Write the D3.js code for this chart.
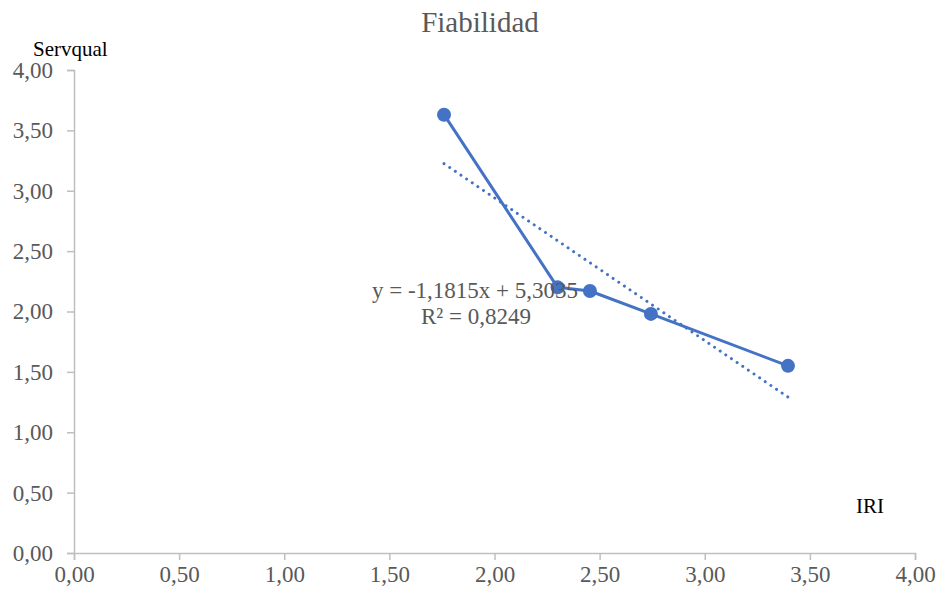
<!DOCTYPE html>
<html><head><meta charset="utf-8">
<script src="https://cdn.jsdelivr.net/npm/d3@7"></script>
<style>body{margin:0;background:#fff}svg{display:block}</style>
</head><body>
<script>
const xValues = [1.76, 2.30, 2.454, 2.744, 3.396];
const yValues = [3.63, 2.20, 2.17, 1.98, 1.55];
const xTicks = [0, 0.5, 1, 1.5, 2, 2.5, 3, 3.5, 4];
const yTicks = [0, 0.5, 1, 1.5, 2, 2.5, 3, 3.5, 4];
const trendSlope = -1.1815, trendIntercept = 5.3035, r2 = 0.8249;
const titleText = "Fiabilidad", yLabel = "Servqual", xLabel = "IRI";

const W = 937, H = 595;
const svg = d3.select("body").append("svg").attr("width", W).attr("height", H);
const x = d3.scaleLinear().domain([0, 4]).range([74, 915]);
const y = d3.scaleLinear().domain([0, 4]).range([553, 70]);
const fmt = v => d3.format(".2f")(v).replace(".", ",");
const num4 = v => v.toFixed(4).replace(".", ",");
const font = "'Liberation Serif', 'Times New Roman', serif";
const grey = "#595959", axisCol = "#BFBFBF", blue = "#4472C4";

const xa = svg.append("g").attr("transform", "translate(0,553)")
  .call(d3.axisBottom(x).tickValues(xTicks).tickFormat(fmt).tickSize(7).tickPadding(6));
const ya = svg.append("g").attr("transform", "translate(74,0)")
  .call(d3.axisLeft(y).tickValues(yTicks).tickFormat(fmt).tickSize(7).tickPadding(14));
[xa, ya].forEach(a => {
  a.selectAll("path,line").attr("stroke", axisCol).attr("stroke-width", 1.5);
  a.selectAll("text").attr("fill", grey).attr("font-family", font).attr("font-size", 23);
});
xa.attr("font-family", font).attr("font-size", 23);
ya.attr("font-family", font).attr("font-size", 23);

// trend line
const tx = d3.extent(xValues);
svg.append("line")
  .attr("x1", x(tx[0])).attr("y1", y(trendSlope * tx[0] + trendIntercept))
  .attr("x2", x(tx[1])).attr("y2", y(trendSlope * tx[1] + trendIntercept))
  .attr("stroke", blue).attr("stroke-width", 3).attr("stroke-linecap", "round")
  .attr("stroke-dasharray", "0.01 6.8");

const pts = xValues.map((v, i) => [v, yValues[i]]);
svg.append("path").datum(pts)
  .attr("d", d3.line().x(d => x(d[0])).y(d => y(d[1])))
  .attr("fill", "none").attr("stroke", blue).attr("stroke-width", 3).attr("stroke-linejoin", "round");
svg.selectAll("circle.pt").data(pts).join("circle").attr("class", "pt")
  .attr("cx", d => x(d[0])).attr("cy", d => y(d[1])).attr("r", 7).attr("fill", blue);

svg.append("text").attr("x", 480).attr("y", 32).attr("text-anchor", "middle")
  .attr("fill", grey).attr("font-family", font).attr("font-size", 29).text(titleText);
svg.append("text").attr("x", 33).attr("y", 56)
  .attr("fill", "#000").attr("font-family", font).attr("font-size", 21).text(yLabel);
svg.append("text").attr("x", 856).attr("y", 513)
  .attr("fill", "#000").attr("font-family", font).attr("font-size", 21).text(xLabel);

const eq = "y = " + num4(trendSlope) + "x + " + num4(trendIntercept);
svg.append("text").attr("x", 475).attr("y", 298).attr("text-anchor", "middle")
  .attr("fill", grey).attr("font-family", font).attr("font-size", 23).text(eq);
svg.append("text").attr("x", 476).attr("y", 324).attr("text-anchor", "middle")
  .attr("fill", grey).attr("font-family", font).attr("font-size", 23)
  .text("R² = " + num4(r2));
</script>
</body></html>
